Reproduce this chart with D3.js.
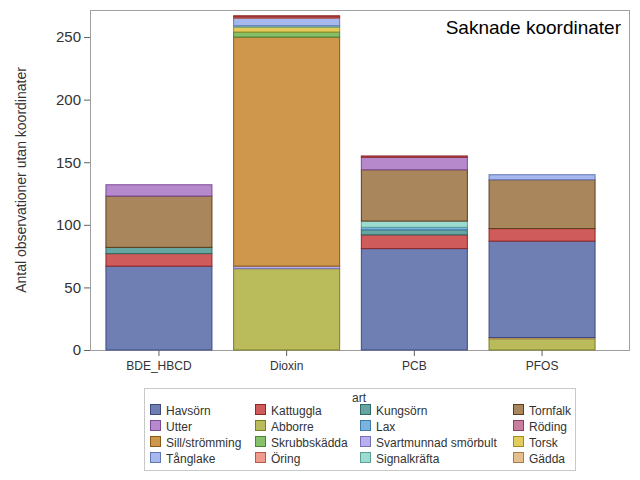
<!DOCTYPE html><html><head><meta charset="utf-8"><script src="https://cdn.jsdelivr.net/npm/d3@7"></script>
<style>body{margin:0;background:#fff}text{font-family:Arial,"Liberation Sans",sans-serif}</style></head><body>
<svg id="c" width="640" height="480"></svg>
<script>
const categories=["BDE_HBCD","Dioxin","PCB","PFOS"];
const species=["Havsörn","Kattuggla","Kungsörn","Tornfalk","Utter","Abborre","Lax","Röding","Sill/strömming","Skrubbskädda","Svartmunnad smörbult","Torsk","Tånglake","Öring","Signalkräfta","Gädda"];
const colors=["#6F7EB3","#D05B5B","#66A5A0","#A9865B","#B689CD","#BABC5C","#7AB4DE","#C97EA0","#CF974B","#86C06B","#B8AFF0","#E0CB5C","#A6B8EE","#F09B8E","#9CDCD0","#E6BF8E"];
const strokes=["#3D4A80","#8E2727","#2E6B66","#5A3E1C","#7B4A94","#7A7C22","#3E7BA6","#8D3E63","#8C5A18","#4A8430","#7870B4","#A08E20","#6075B4","#B4584C","#5AA096","#A67C4A"];
// stacks per category: [species, value] bottom to top
const stackBDE=[["Havsörn",67],["Kattuggla",10],["Kungsörn",5],["Tornfalk",41],["Utter",9]];
const stackDioxin=[["Abborre",65],["Svartmunnad smörbult",2],["Sill/strömming",183],["Skrubbskädda",4],["Torsk",4],["Signalkräfta",1],["Tånglake",6],["Öring",1],["Kattuggla",1]];
const stackPCB=[["Havsörn",81],["Kattuggla",11],["Kungsörn",4],["Lax",2],["Signalkräfta",5],["Tornfalk",41],["Utter",10],["Kattuggla",1]];
const stackPFOS=[["Abborre",9],["Gädda",1],["Havsörn",77],["Kattuggla",10],["Tornfalk",39],["Tånglake",4]];
const stacks=[stackBDE,stackDioxin,stackPCB,stackPFOS];
const yTicks=[0,50,100,150,200,250];

const svg=d3.select("#c");
const x=d3.scaleBand().domain(categories).range([97,604]).paddingInner(0.17).paddingOuter(0.07);
const y=d3.scaleLinear().domain([0,271.6]).range([350,10]);
const col=d3.scaleOrdinal(species,colors), stc=d3.scaleOrdinal(species,strokes);
svg.append("rect").attr("x",90.5).attr("y",10.5).attr("width",539).attr("height",340).attr("fill","none").attr("stroke","#a0a0a0");
categories.forEach((c,i)=>{let acc=0;
  stacks[i].forEach(([s,v])=>{
    svg.append("rect").attr("x",x(c)).attr("width",x.bandwidth()).attr("y",y(acc+v)).attr("height",y(acc)-y(acc+v))
      .attr("fill",col(s)).attr("stroke",stc(s)).attr("stroke-width",1);
    acc+=v;});});
const ya=svg.append("g").attr("transform","translate(90,0)").call(d3.axisLeft(y).tickValues(yTicks).tickSize(6).tickSizeOuter(0));
ya.select(".domain").remove();
ya.selectAll("line").attr("stroke","#606060");
ya.selectAll("text").attr("font-size",15).attr("fill","#333");
const xa=svg.append("g").attr("transform","translate(0,350)").call(d3.axisBottom(x).tickSize(6).tickSizeOuter(0));
xa.select(".domain").remove();
xa.selectAll("line").attr("stroke","#606060");
xa.selectAll("text").attr("font-size",12).attr("fill","#333").attr("dy","0.9em");
svg.append("text").attr("transform","translate(26,180) rotate(-90)").attr("text-anchor","middle").attr("font-size",14).attr("fill","#333").text("Antal observationer utan koordinater");
svg.append("text").attr("x",621).attr("y",34).attr("text-anchor","end").attr("font-size",19).text("Saknade koordinater");
// legend
svg.append("rect").attr("x",144.5).attr("y",388.5).attr("width",431).attr("height",82).attr("fill","none").attr("stroke","#c8c8c8");
svg.append("text").attr("x",359).attr("y",402).attr("text-anchor","middle").attr("font-size",12).attr("fill","#333").text("art");
const colX=[150,255,360,513];
species.forEach((s,i)=>{const cx=colX[i%4], cy=410+Math.floor(i/4)*16;
  svg.append("rect").attr("x",cx+0.5).attr("y",cy-5.5).attr("width",10).attr("height",10).attr("fill",col(s)).attr("stroke",stc(s));
  svg.append("text").attr("x",cx+16).attr("y",cy+4.5).attr("font-size",12).attr("fill","#333").text(s);});
</script></body></html>
